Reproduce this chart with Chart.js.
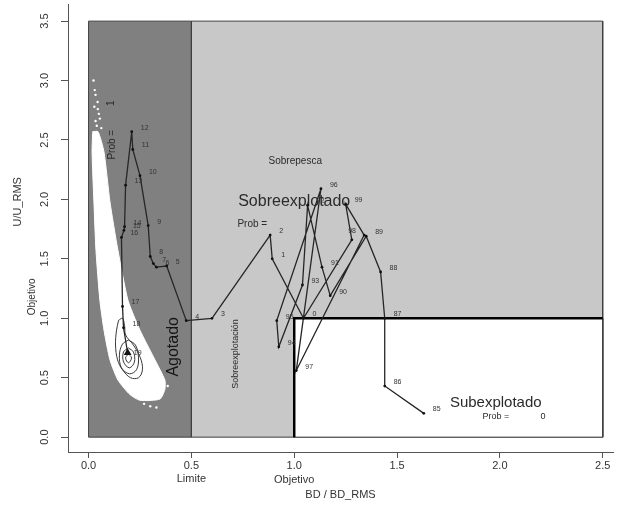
<!DOCTYPE html>
<html>
<head>
<meta charset="utf-8">
<script src="https://cdn.jsdelivr.net/npm/chart.js@4.4.1/dist/chart.umd.min.js"></script>
<style>
  html, body { margin: 0; padding: 0; background: #fff; }
</style>
</head>
<body>
<canvas id="myChart" width="618" height="510"></canvas>
<script>
// trayectoria BD/BD_RMS vs U/U_RMS (1985 - 2019)
const years = ['85','86','87','88','89','90','91','92','93','94','95','96','97','98','99','','0','1','2','3','4','5','6','7','8','9','10','11','12','13','14','15','16','17','18','19'];
const bdRatio = [1.63,1.44,1.44,1.42,1.35,1.175,1.135,1.065,1.04,0.925,0.915,1.13,1.01,1.34,1.25,1.28,1.045,0.893,0.883,0.60,0.475,0.38,0.33,0.315,0.30,0.29,0.25,0.215,0.21,0.18,0.175,0.172,0.16,0.165,0.17,0.19];
const uRatio = [0.20,0.43,1.00,1.39,1.69,1.19,1.43,1.95,1.28,0.76,0.98,2.09,0.56,1.70,1.96,1.66,1.00,1.50,1.70,1.00,0.98,1.44,1.43,1.46,1.52,1.78,2.20,2.42,2.57,2.12,1.77,1.74,1.68,1.10,0.92,0.71];

// zonas
const agotadoX = [0, 0, 0.5, 0.5, 0];
const agotadoY = [0, 3.5, 3.5, 0, 0];
const sobreX = [0.5, 0.5, 2.5, 2.5, 0.5];
const sobreY = [0, 3.5, 3.5, 0, 0];
const subX = [1, 1, 2.5, 2.5, 1];
const subY = [0, 1, 1, 0, 0];
const limiteX = [1, 1, 2.5];
const limiteY = [0, 1, 1];

// nube de la ultima estimacion (contorno)
const nubeX = [0.020,0.017,0.026,0.036,0.055,0.075,0.104,0.143,0.200,0.250,0.347,0.371,0.371,0.323,0.250,0.192,0.143,0.104,0.075,0.046,0.020];
const nubeY = [2.57,2.40,1.98,1.57,1.15,0.90,0.65,0.48,0.36,0.31,0.32,0.40,0.48,0.65,0.90,1.15,1.57,1.98,2.40,2.57,2.57];
const puntosX = [0.024,0.034,0.044,0.034,0.050,0.040,0.055,0.030,0.045,0.028,0.062,0.300,0.330,0.270,0.385];
const puntosY = [3.00,2.88,2.82,2.66,2.72,2.62,2.68,2.92,2.76,2.78,2.60,0.26,0.25,0.28,0.43];

const contornoX = [
  [0.146,0.165,0.175,0.18,0.218,0.252,0.262,0.243,0.204,0.165,0.141,0.131,0.136,0.146],
  [0.194,0.228,0.243,0.233,0.199,0.16,0.15,0.165,0.194],
  [0.194,0.218,0.223,0.199,0.17,0.17,0.194],
  [0.194,0.209,0.194,0.18,0.194]
];
const contornoY = [
  [0.983,1.0,0.94,0.86,0.775,0.667,0.567,0.5,0.5,0.567,0.65,0.775,0.9,0.983],
  [0.817,0.775,0.667,0.567,0.533,0.583,0.692,0.783,0.817],
  [0.75,0.717,0.633,0.583,0.633,0.717,0.75],
  [0.7,0.667,0.625,0.667,0.7]
];

const xTicks = [0, 0.5, 1, 1.5, 2, 2.5];
const xTickLabels = ['0.0', '0.5', '1.0', '1.5', '2.0', '2.5'];
const yTicks = [0, 0.5, 1, 1.5, 2, 2.5, 3, 3.5];
const yTickLabels = ['0.0', '0.5', '1.0', '1.5', '2.0', '2.5', '3.0', '3.5'];

const fam = '"Liberation Sans", Arial, Helvetica, sans-serif';
const pts = (xs, ys) => xs.map((x, i) => ({x: x, y: ys[i]}));
const last = years.length - 1;

let datasets = [
  {
    data: pts(bdRatio, uRatio),
    borderColor: '#262626',
    borderWidth: 1.3,
    pointStyle: c => c.dataIndex === last ? 'triangle' : 'circle',
    pointRadius: c => c.dataIndex === last ? 4.5 : 1.4,
    pointBackgroundColor: '#111',
    pointBorderWidth: 0,
    fill: false,
    order: 1
  },
  { data: pts(limiteX, limiteY), borderColor: '#000', borderWidth: 2.5, pointRadius: 0, fill: false, order: 2 }
];
contornoX.forEach((cx, k) => {
  datasets.push({ data: pts(cx, contornoY[k]), borderColor: '#3a3a3a', borderWidth: 1, pointRadius: 0, tension: 0.35, fill: false, order: 3 });
});
datasets.push(
  { data: pts(puntosX, puntosY), showLine: false, pointRadius: 1.2, pointBackgroundColor: '#fff', pointBorderWidth: 0, order: 5 },
  { data: pts(nubeX, nubeY), borderColor: '#fff', borderWidth: 1, backgroundColor: '#fff', pointRadius: 0, tension: 0.2, fill: 'shape', order: 6 },
  { data: pts(subX, subY), borderColor: '#404040', borderWidth: 1, backgroundColor: '#ffffff', pointRadius: 0, fill: 'shape', order: 7 },
  { data: pts(agotadoX, agotadoY), borderColor: '#404040', borderWidth: 1, backgroundColor: '#808080', pointRadius: 0, fill: 'shape', order: 8 },
  { data: pts(sobreX, sobreY), borderColor: '#404040', borderWidth: 1, backgroundColor: '#c8c8c8', pointRadius: 0, fill: 'shape', order: 9 }
);

const notas = [
  {t: 'Sobrepesca', x: 1.005, y: 2.32, s: 10},
  {t: 'Sobreexplotado', x: 1.0, y: 1.98, s: 16},
  {t: 'Prob =', x: 0.796, y: 1.79, s: 10},
  {t: 'Sobreexplotación', x: 0.714, y: 0.70, s: 9, r: true},
  {t: 'Agotado', x: 0.413, y: 0.76, s: 16, r: true, c: '#151515'},
  {t: 'Prob =', x: 0.117, y: 2.46, s: 10, r: true},
  {t: '1', x: 0.112, y: 2.81, s: 10, r: true},
  {t: 'Subexplotado', x: 1.98, y: 0.29, s: 15},
  {t: 'Prob =', x: 1.98, y: 0.175, s: 9},
  {t: '0', x: 2.21, y: 0.175, s: 9}
];

function texto(ctx, str, x, y, size, rot, color) {
  ctx.save();
  ctx.translate(x, y);
  if (rot) ctx.rotate(-Math.PI / 2);
  ctx.font = size + 'px ' + fam;
  ctx.fillStyle = color || '#2b2b2b';
  ctx.textAlign = 'center';
  ctx.textBaseline = 'middle';
  ctx.fillText(str, 0, 0);
  ctx.restore();
}

const textos = {
  id: 'textos',
  beforeDatasetDraw(chart, args) {
    if (args.index !== 0) return;
    const xs = chart.scales.x, ys = chart.scales.y, ctx = chart.ctx;
    notas.forEach(n => texto(ctx, n.t, xs.getPixelForValue(n.x), ys.getPixelForValue(n.y), n.s, n.r, n.c));
  },
  afterDatasetsDraw(chart) {
    const ctx = chart.ctx, xs = chart.scales.x, ys = chart.scales.y, area = chart.chartArea;
    // etiquetas de anios
    const meta = chart.getDatasetMeta(0);
    ctx.save();
    ctx.font = '7px ' + fam;
    ctx.fillStyle = '#333';
    ctx.textBaseline = 'middle';
    ctx.textAlign = 'left';
    meta.data.forEach((p, i) => {
      if (i === last) return;
      const dx = years[i] === '98' ? -16 : 9;
      ctx.fillText(years[i], p.x + dx, p.y - 4);
    });
    ctx.restore();
    texto(ctx, '19', meta.data[last].x + 10, meta.data[last].y, 7, false, '#333');
    // eje y
    yTicks.forEach((v, i) => texto(ctx, yTickLabels[i], area.left - 23, ys.getPixelForValue(v), 11, true, '#333'));
    texto(ctx, 'U/U_RMS', area.left - 50, ys.getPixelForValue(1.98), 11, true, '#333');
    texto(ctx, 'Objetivo', area.left - 36, ys.getPixelForValue(1.18), 10, true, '#333');
    // eje x
    texto(ctx, 'Limite', xs.getPixelForValue(0.5), area.bottom + 27, 11, false, '#333');
    texto(ctx, 'Objetivo', xs.getPixelForValue(1.0), area.bottom + 28, 11, false, '#333');
  }
};

const ctx = document.getElementById('myChart').getContext('2d');
const chart = new Chart(ctx, {
  type: 'line',
  data: { datasets: datasets },
  options: {
    responsive: false,
    animation: false,
    events: [],
    layout: { padding: { left: 61, right: 5, top: 1, bottom: 0 } },
    plugins: { legend: { display: false }, tooltip: { enabled: false } },
    scales: {
      x: {
        type: 'linear', min: -0.1, max: 2.55,
        afterBuildTicks: s => { s.ticks = xTicks.map(v => ({value: v})); },
        ticks: { callback: (v, i) => xTickLabels[i], font: { family: fam, size: 11 }, color: '#333', padding: 1, maxRotation: 0, autoSkip: false },
        grid: { drawOnChartArea: false, drawTicks: true, tickLength: 6, color: '#555', tickColor: '#555' },
        border: { color: '#555', width: 1 },
        title: { display: true, text: 'BD / BD_RMS', font: { family: fam, size: 11 }, color: '#333', padding: { top: 15.6, bottom: 8 } }
      },
      y: {
        type: 'linear', min: -0.125, max: 3.64,
        afterBuildTicks: s => { s.ticks = yTicks.map(v => ({value: v})); },
        ticks: { display: false },
        grid: { drawOnChartArea: false, drawTicks: true, tickLength: 7, color: '#555', tickColor: '#555' },
        border: { color: '#555', width: 1 }
      }
    }
  },
  plugins: [textos]
});
</script>
</body>
</html>
